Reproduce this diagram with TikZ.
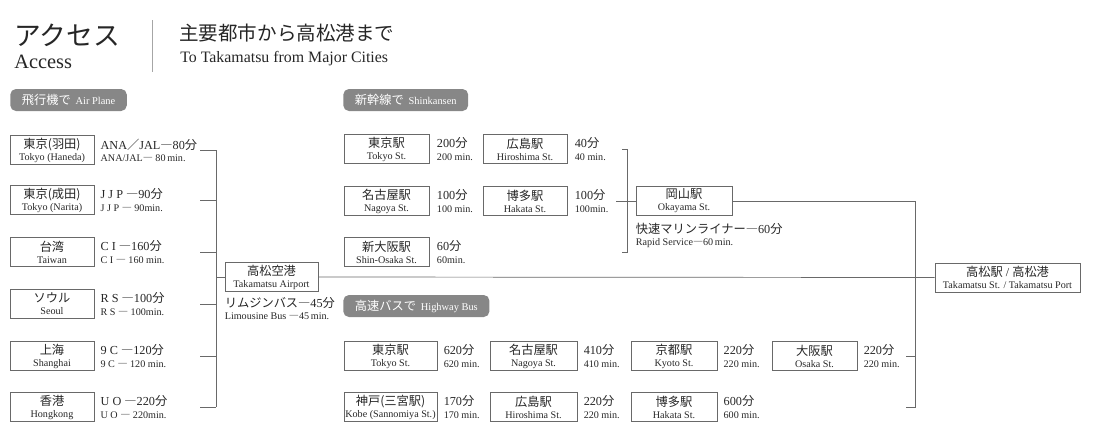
\documentclass[tikz,border=0pt]{standalone}
\usepackage{fontspec}
\setmainfont{Liberation Serif}
\newfontfamily\jpfont{Noto Sans CJK JP}
\usetikzlibrary{positioning}
\definecolor{inkgray}{RGB}{38,38,38}
\definecolor{rulegray}{RGB}{105,105,105}
\definecolor{taggray}{RGB}{135,135,135}
\newcommand{\jp}[1]{{\jpfont #1}}
\newcommand{\hi}[1]{{\fontsize{8.7}{10}\selectfont #1}}
\newcommand{\lo}[1]{{\fontsize{7.4}{8}\selectfont #1}}

\begin{document}
\begin{tikzpicture}[x=0.025cm,y=-0.025cm,
    stn/.style={draw=rulegray,line width=0.5pt,inner sep=0pt,align=center,
      minimum height=0.72cm,text=inkgray,font=\fontsize{7.2}{8.6}\selectfont},
    airbox/.style={stn,minimum width=2.1cm},
    tm/.style={inner sep=0pt,align=left,text=inkgray,font=\fontsize{7.2}{8.6}\selectfont},
    tag/.style={fill=taggray,rounded corners=4pt,text=white,inner xsep=0.29cm,
      inner ysep=0pt,minimum height=0.55cm,anchor=west},
    ttl/.style={anchor=base west,inner sep=0pt,text=inkgray},
    ln/.style={draw=rulegray,line width=0.5pt}
  ]
  \useasboundingbox (0,0) rectangle (1104,442);

  % heading
  \node[ttl,font=\jpfont\fontsize{19}{19}\selectfont] (ttljp) at (14,45) {アクセス};
  \node[ttl,font=\fontsize{14.5}{15}\selectfont] (ttlen) at (14,68) {Access};
  \draw[draw=gray!70,line width=0.6pt] (152,20) -- (152,72);
  \node[ttl,font=\jpfont\fontsize{13.9}{14}\selectfont] (subjp) at (179,40) {主要都市から高松港まで};
  \node[ttl,font=\fontsize{11.3}{12}\selectfont] (suben) at (180,62) {To Takamatsu from Major Cities};

  % section tags
  \node[tag] (tagair) at (10,100) {\hi{\jp{飛行機で}}\hspace{0.12cm}\lo{Air Plane}};
  \node[tag] (tagrail) at (343,100) {\hi{\jp{新幹線で}}\hspace{0.12cm}\lo{Shinkansen}};
  \node[tag] (tagbus) at (343,306) {\hi{\jp{高速バスで}}\hspace{0.12cm}\lo{Highway Bus}};

  % by air
  \node[airbox] (hnd) at (52,150) {\hi{\jp{東京(羽田)}}\\Tokyo (Haneda)};
  \node[airbox] (nrt) at (52,200) {\hi{\jp{東京(成田)}}\\Tokyo (Narita)};
  \node[airbox] (tpe) at (52,252) {\hi{\jp{台湾}}\\Taiwan};
  \node[airbox] (sel) at (52,304) {\hi{\jp{ソウル}}\\Seoul};
  \node[airbox] (sha) at (52,356) {\hi{\jp{上海}}\\Shanghai};
  \node[airbox] (hkg) at (52,407) {\hi{\jp{香港}}\\Hongkong};
  \node[tm,right=0.15cm of hnd] (hndt) {\hi{ANA\jp{／}JAL\jp{―}80\jp{分}}\\ANA/JAL\jp{―} 80\,min.};
  \node[tm,right=0.15cm of nrt] (nrtt) {\hi{J J P \jp{―}90\jp{分}}\\J J P \jp{―} 90min.};
  \node[tm,right=0.15cm of tpe] (tpet) {\hi{C I \jp{―}160\jp{分}}\\C I \jp{―} 160 min.};
  \node[tm,right=0.15cm of sel] (selt) {\hi{R S \jp{―}100\jp{分}}\\R S \jp{―} 100min.};
  \node[tm,right=0.15cm of sha] (shat) {\hi{9 C \jp{―}120\jp{分}}\\9 C \jp{―} 120 min.};
  \node[tm,right=0.15cm of hkg] (hkgt) {\hi{U O \jp{―}220\jp{分}}\\U O \jp{―} 220min.};
  \node[stn,minimum width=2.33cm] (tak) at (271.5,277) {\hi{\jp{高松空港}}\\Takamatsu Airport};
  \node[tm,anchor=north west] (limo) at ([yshift=-0.14cm]tak.south west) {\hi{\jp{リムジンバス―}45\jp{分}}\\Limousine Bus \jp{―}45\,min.};

  % by shinkansen
  \node[stn,minimum width=2.13cm] (tky) at (386.5,149) {\hi{\jp{東京駅}}\\Tokyo St.};
  \node[stn,minimum width=2.13cm] (ngy) at (386.5,201) {\hi{\jp{名古屋駅}}\\Nagoya St.};
  \node[stn,minimum width=2.13cm] (sos) at (386.5,252) {\hi{\jp{新大阪駅}}\\Shin-Osaka St.};
  \node[stn,minimum width=2.1cm] (hir) at (525,149) {\hi{\jp{広島駅}}\\Hiroshima St.};
  \node[stn,minimum width=2.1cm] (hkt) at (525,201) {\hi{\jp{博多駅}}\\Hakata St.};
  \node[tm,right=0.18cm of tky] (tkyt) {\hi{200\jp{分}}\\200 min.};
  \node[tm,right=0.18cm of ngy] (ngyt) {\hi{100\jp{分}}\\100 min.};
  \node[tm,right=0.18cm of sos] (sost) {\hi{60\jp{分}}\\60min.};
  \node[tm,right=0.18cm of hir] (hirt) {\hi{40\jp{分}}\\40 min.};
  \node[tm,right=0.18cm of hkt] (hktt) {\hi{100\jp{分}}\\100min.};
  \node[stn,minimum width=2.4cm] (oky) at (684,201) {\hi{\jp{岡山駅}}\\Okayama St.};
  \node[tm,anchor=north west] (rapid) at ([yshift=-0.18cm]oky.south west) {\hi{\jp{快速マリンライナー―}60\jp{分}}\\Rapid Service\jp{―}60\,min.};

  % by highway bus
  \node[stn,minimum width=2.33cm] (btky) at (390.5,356) {\hi{\jp{東京駅}}\\Tokyo St.};
  \node[stn,minimum width=2.18cm] (bngy) at (533.5,356) {\hi{\jp{名古屋駅}}\\Nagoya St.};
  \node[stn,minimum width=2.15cm] (bkyo) at (674,356) {\hi{\jp{京都駅}}\\Kyoto St.};
  \node[stn,minimum width=2.13cm] (bosk) at (814.5,356) {\hi{\jp{大阪駅}}\\Osaka St.};
  \node[stn,minimum width=2.33cm] (bkob) at (390.5,407) {\hi{\jp{神戸(三宮駅)}}\\Kobe (Sannomiya St.)};
  \node[stn,minimum width=2.18cm] (bhir) at (533.5,407) {\hi{\jp{広島駅}}\\Hiroshima St.};
  \node[stn,minimum width=2.15cm] (bhkt) at (674,407) {\hi{\jp{博多駅}}\\Hakata St.};
  \node[tm,right=0.15cm of btky] (btkyt) {\hi{620\jp{分}}\\620 min.};
  \node[tm,right=0.15cm of bngy] (bngyt) {\hi{410\jp{分}}\\410 min.};
  \node[tm,right=0.15cm of bkyo] (bkyot) {\hi{220\jp{分}}\\220 min.};
  \node[tm,right=0.15cm of bosk] (boskt) {\hi{220\jp{分}}\\220 min.};
  \node[tm,right=0.15cm of bkob] (bkobt) {\hi{170\jp{分}}\\170 min.};
  \node[tm,right=0.15cm of bhir] (bhirt) {\hi{220\jp{分}}\\220 min.};
  \node[tm,right=0.15cm of bhkt] (bhktt) {\hi{600\jp{分}}\\600 min.};

  \node[stn,minimum width=3.63cm] (port) at (1007.5,277.5) {\hi{\jp{高松駅} / \jp{高松港}}\\Takamatsu St. / Takamatsu Port};

  % connectors
  \coordinate (as) at (200,0);
  \coordinate (ab) at (216,0);
  \foreach \n in {hnd,nrt,tpe,sel,sha,hkg}
    \draw[ln] (\n -| as) -- (\n -| ab);
  \draw[ln] (hnd -| ab) -- (hkg -| ab);
  \draw[ln] (tak -| ab) -- (tak.west);
  \draw[ln] (tak.east) -- (port.west);

  \coordinate (ss) at (622,0);
  \coordinate (sb) at (627,0);
  \coordinate (sm) at (616,0);
  \draw[ln] (hir -| ss) -- (hir -| sb) -- (sos -| sb) -- (sos -| ss);
  \draw[ln] (oky -| sm) -- (oky.west);

  \coordinate (rs) at (906,0);
  \coordinate (rb) at (915,0);
  \draw[ln] (oky.east) -| (bhkt -| rb) -- (bhkt -| rs);
  \draw[ln] (bosk -| rs) -- (bosk -| rb);
\end{tikzpicture}
\end{document}
